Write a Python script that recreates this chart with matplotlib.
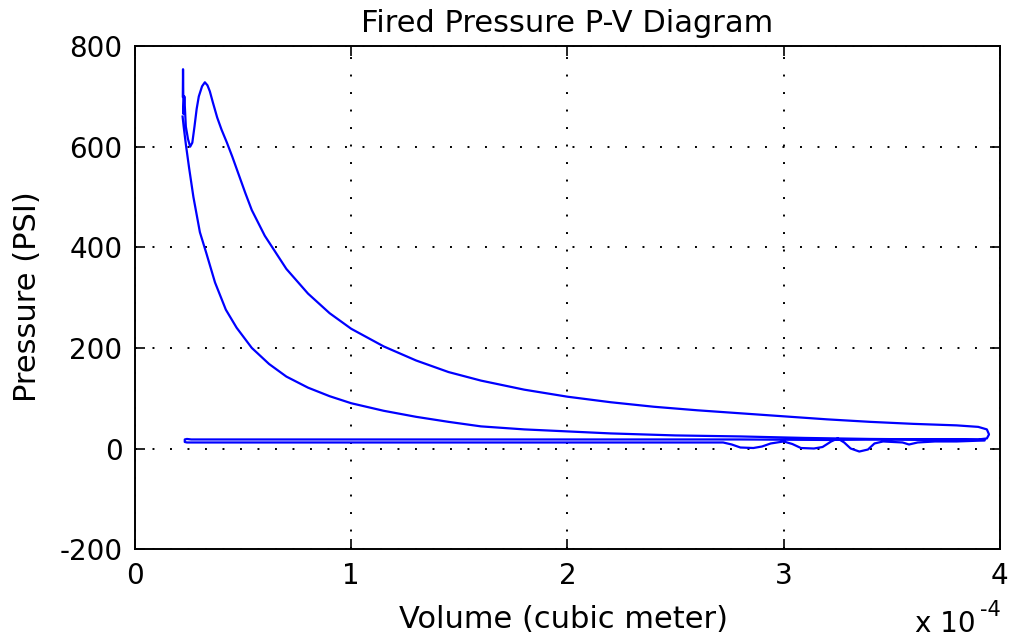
import matplotlib
matplotlib.use('Agg')
import matplotlib.pyplot as plt

plt.rcParams['font.family'] = ['DejaVu Sans']
plt.rcParams['axes.unicode_minus'] = False

# volume in units of 1e-4 cubic meter, pressure in PSI
# compression stroke (BDC -> TDC)
comp_v = [3.93, 3.7, 3.4, 3.1, 2.8, 2.5, 2.2, 2.0, 1.8, 1.6, 1.45, 1.3, 1.15, 1.0,
          0.9, 0.8, 0.7, 0.62, 0.54, 0.47, 0.42, 0.37, 0.33, 0.30, 0.27, 0.25,
          0.235, 0.225, 0.22]
comp_p = [17, 18, 19, 21, 24, 26, 30, 34, 38, 44, 53, 63, 75, 90,
          104, 121, 143, 168, 200, 240, 276, 330, 388, 430, 500, 558,
          605, 640, 660]

# combustion + expansion stroke (TDC -> BDC), then blowdown
exp_v = [0.221, 0.222, 0.224, 0.228, 0.235, 0.245, 0.255, 0.265, 0.275, 0.285,
         0.295, 0.31, 0.323, 0.335, 0.346, 0.36, 0.38, 0.40, 0.425, 0.45, 0.47,
         0.49, 0.51, 0.54, 0.6, 0.7, 0.8, 0.9, 1.0, 1.15, 1.3, 1.45, 1.6, 1.8,
         2.0, 2.2, 2.4, 2.6, 2.8, 3.0, 3.2, 3.4, 3.6, 3.8, 3.9, 3.94, 3.95,
         3.94, 3.9]
exp_p = [700, 754, 665, 700, 640, 615, 600, 608, 640, 675,
         700, 720, 728, 722, 710, 688, 658, 634, 608, 580, 556,
         532, 508, 474, 423, 357, 308, 269, 238, 203, 175, 152, 135, 117,
         103, 92, 83, 76, 70, 64, 58, 53, 49, 46, 43, 38, 28,
         20, 18]

# exhaust stroke (BDC -> TDC)
exh_v = [3.85, 3.5, 3.2, 2.8, 2.4, 2.0, 1.5, 1.0, 0.5, 0.26, 0.24, 0.23, 0.23, 0.24]
exh_p = [18, 18, 17, 18, 18, 18, 18, 18, 18, 18, 19, 18, 13, 12]

# intake stroke (TDC -> BDC) with valve ringing
int_v = [0.26, 0.5, 1.0, 1.5, 2.0, 2.4, 2.72, 2.76, 2.8, 2.86, 2.9, 2.94, 3.0,
         3.04, 3.08, 3.14, 3.18, 3.22, 3.25, 3.28, 3.31, 3.35, 3.39, 3.42,
         3.46, 3.55, 3.58, 3.62, 3.7, 3.8, 3.93]
int_p = [12, 12, 12, 12, 12, 12, 12, 8, 2, 1, 4, 10, 14,
         9, 1, 0, 3, 14, 20, 12, 0, -6, -2, 10,
         14, 12, 8, 12, 14, 14, 16]

vol = exp_v + exh_v + int_v + comp_v
pres = exp_p + exh_p + int_p + comp_p

fs = 20
fs_lab = 22
fig = plt.figure(figsize=(10.13, 6.4), dpi=100)
ax = fig.add_axes([0.1333, 0.142, 0.8537, 0.786])

ax.plot(vol, pres, color='#0000ff', linewidth=1.6)

ax.set_xlim(0, 4)
ax.set_ylim(-200, 800)
ax.set_xticks([0, 1, 2, 3, 4])
ax.set_yticks([-200, 0, 200, 400, 600, 800])
ax.grid(True, linestyle=(0, (1, 8)), color='black', linewidth=1.4)
ax.tick_params(direction='in', length=7, width=1.2, labelsize=fs, top=True, right=True,
               labeltop=False, labelright=False)
ax.tick_params(axis='x', pad=9)
ax.tick_params(axis='y', pad=9)
for s in ax.spines.values():
    s.set_linewidth(1.4)

ax.set_title('Fired Pressure P-V Diagram', fontsize=fs_lab, pad=10)
ax.set_xlabel('Volume (cubic meter)', fontsize=fs_lab, va='top')
ax.xaxis.set_label_coords(0.495, -0.112)
ax.set_ylabel('Pressure (PSI)', fontsize=fs_lab, va='bottom')
ax.yaxis.set_label_coords(-0.108, 0.501)

# multiplier text, MATLAB style
fig.text(0.933, 0.025, 'x 10', fontsize=fs, ha='center', va='center')
fig.text(0.978, 0.0470, '-4', fontsize=15, ha='center', va='center')

fig.savefig('out.png', dpi=100)
